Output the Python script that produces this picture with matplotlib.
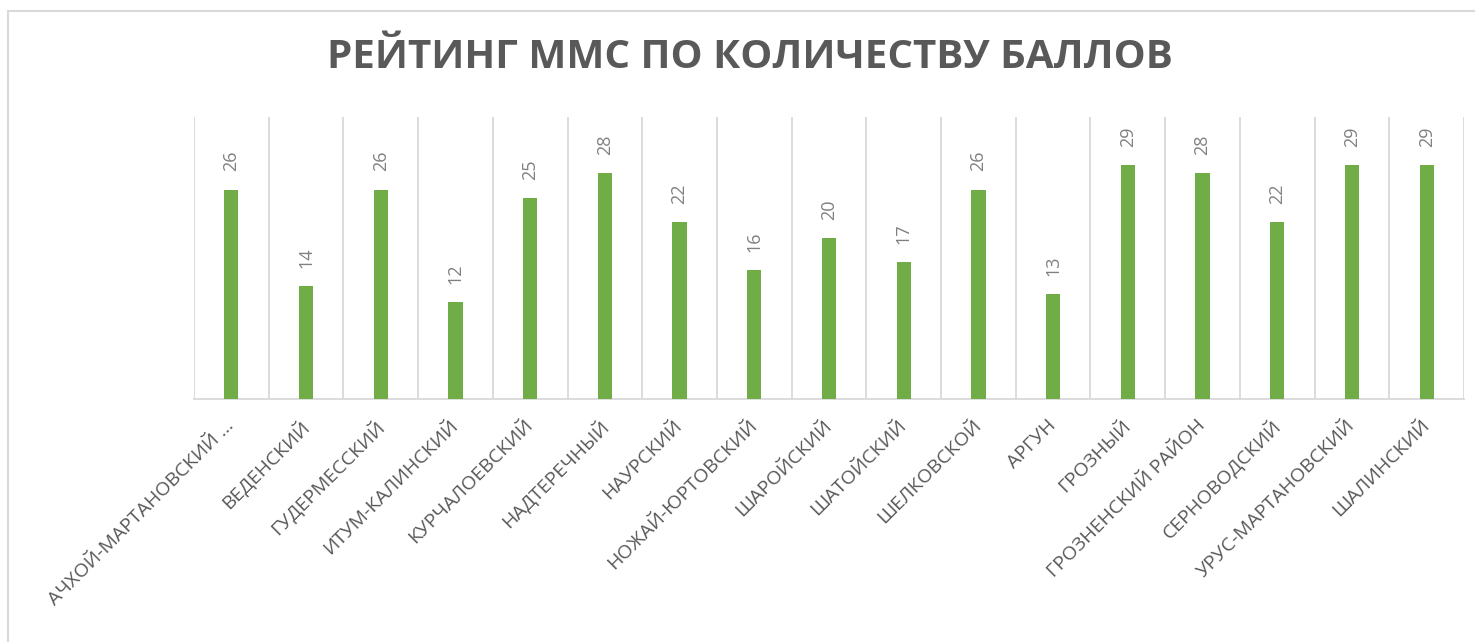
import matplotlib
matplotlib.use("Agg")
import matplotlib.pyplot as plt
from matplotlib.patches import Rectangle
import numpy as np

# районы и баллы
districts = [
    "АЧХОЙ-МАРТАНОВСКИЙ ...", "ВЕДЕНСКИЙ", "ГУДЕРМЕССКИЙ", "ИТУМ-КАЛИНСКИЙ",
    "КУРЧАЛОЕВСКИЙ", "НАДТЕРЕЧНЫЙ", "НАУРСКИЙ", "НОЖАЙ-ЮРТОВСКИЙ",
    "ШАРОЙСКИЙ", "ШАТОЙСКИЙ", "ШЕЛКОВСКОЙ", "АРГУН", "ГРОЗНЫЙ",
    "ГРОЗНЕНСКИЙ РАЙОН", "СЕРНОВОДСКИЙ", "УРУС-МАРТАНОВСКИЙ", "ШАЛИНСКИЙ",
]
scores = [26, 14, 26, 12, 25, 28, 22, 16, 20, 17, 26, 13, 29, 28, 22, 29, 29]
title = "РЕЙТИНГ ММС ПО КОЛИЧЕСТВУ БАЛЛОВ"

GREEN = "#70ad47"
GRID = "#d9d9d9"
TXT = "#595959"
LBL = "#808080"

plt.rcParams["font.family"] = ["Open Sans", "DejaVu Sans"]

fig = plt.figure(figsize=(14.75, 6.42), dpi=100)
# рамка диаграммы (уходит за правый и нижний край)
fig.patches.append(Rectangle((8 / 1475, -0.1), 1.2, 1 - 11 / 642 + 0.1,
                             transform=fig.transFigure, fill=False,
                             ec=GRID, lw=1.5))

ax = fig.add_axes([194 / 1475, 1 - 399 / 642, (1464 - 194) / 1475, (399 - 117) / 642])
x = np.arange(len(districts))
ax.bar(x, scores, width=0.19, color=GREEN, zorder=3)
ax.set_xlim(-0.5, len(districts) - 0.5)
ax.set_ylim(0, 35)

for xi, v in zip(x, scores):
    ax.annotate(str(v), (xi, v), xytext=(0, 13), textcoords="offset points",
                rotation=90, ha="center", va="bottom", fontsize=13, color=LBL)

# вертикальные линии между категориями
ax.set_xticks(np.arange(-0.5, len(districts)), minor=True)
ax.grid(which="minor", axis="x", color=GRID, lw=1.3, zorder=0)
ax.tick_params(which="minor", length=0)
ax.set_xticks(x)
ax.set_xticklabels(districts, rotation=45, ha="right", va="center",
                   rotation_mode="anchor", fontsize=14, color=TXT)
ax.tick_params(axis="x", length=0, pad=17)
ax.set_yticks([])
for s in ("top", "right", "left"):
    ax.spines[s].set_visible(False)
ax.spines["bottom"].set_color(GRID)
ax.spines["bottom"].set_linewidth(1.3)

fig.text(750 / 1475, 1 - 58 / 642, title, ha="center", va="center",
         fontsize=29, fontweight="bold", color=TXT)

fig.savefig("out.png", dpi=100, facecolor="white")
